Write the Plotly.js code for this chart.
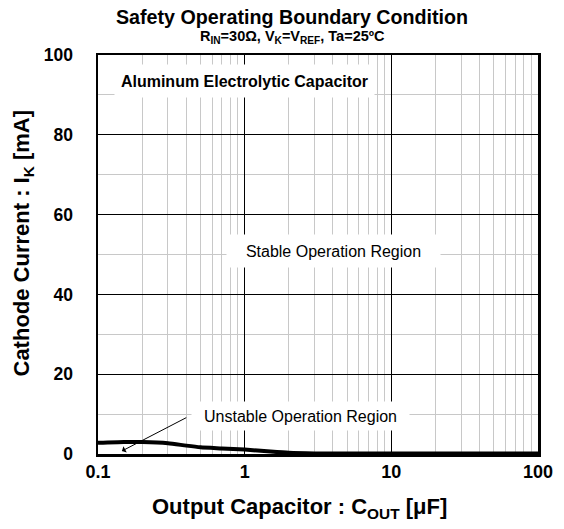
<!DOCTYPE html>
<html>
<head>
<meta charset="utf-8">
<script src="https://cdn.plot.ly/plotly-3.0.1.min.js"></script>
<style>html,body{margin:0;padding:0;background:#fff;}#chart{width:564px;height:529px;}</style>
</head>
<body>
<div id="chart"></div>
<script>
// Data
var capacitance = [0.1, 0.15, 0.2, 0.3, 0.4, 0.5, 0.7, 1, 1.5, 2, 3, 5, 10, 100]; // µF
var cathodeCurrent = [2.8, 3.0, 3.0, 2.7, 2.1, 1.7, 1.4, 1.1, 0.6, 0.3, 0.15, 0.1, 0.1, 0.1]; // mA
var xTickVals = [0.1, 1, 10, 100];
var xTickText = ['0.1', '1', '10', '100'];
var yTickVals = [0, 20, 40, 60, 80, 100];

var FONT = 'Arial, "Liberation Sans", sans-serif';

var trace = {
  x: capacitance,
  y: cathodeCurrent,
  type: 'scatter',
  mode: 'lines',
  line: {color: '#000', width: 4, shape: 'spline', smoothing: 0.6},
  hoverinfo: 'skip',
  showlegend: false
};

var layout = {
  width: 564,
  height: 529,
  margin: {l: 98, r: 26, t: 55, b: 75},
  paper_bgcolor: '#fff',
  plot_bgcolor: '#fff',
  font: {family: FONT, color: '#000'},
  title: {
    text: '<b>Safety Operating Boundary Condition</b>',
    font: {family: FONT, size: 19.7, color: '#000'},
    x: 0.441, xref: 'paper', xanchor: 'center',
    y: 0.968, yref: 'container', yanchor: 'middle'
  },
  xaxis: {
    type: 'log',
    range: [-1, 2],
    tickvals: xTickVals,
    ticktext: xTickText,
    ticks: '',
    tickfont: {family: FONT, size: 18, color: '#000', weight: 'bold'},
    showgrid: true,
    gridcolor: '#000',
    gridwidth: 1,
    minor: {dtick: 'D1', showgrid: true, gridcolor: '#c8c8c8', gridwidth: 1, ticks: ''},
    showline: true,
    linecolor: '#000',
    linewidth: 2.5,
    mirror: 'all',
    zeroline: false,
    fixedrange: true
  },
  yaxis: {
    range: [0, 100],
    tickvals: yTickVals,
    ticks: '',
    ticklabelstandoff: 19,
    tickfont: {family: FONT, size: 17.5, color: '#000', weight: 'bold'},
    showgrid: true,
    gridcolor: '#000',
    gridwidth: 1,
    minor: {dtick: 10, showgrid: true, gridcolor: '#c8c8c8', gridwidth: 1, ticks: ''},
    showline: true,
    linecolor: '#000',
    linewidth: 2.5,
    mirror: 'all',
    zeroline: false,
    fixedrange: true
  },
  annotations: [
    {
      xref: 'paper', yref: 'paper', x: 0.441, y: 1, yshift: 18,
      text: '<b>R<sub>IN</sub>=30Ω, V<sub>K</sub>=V<sub>REF</sub>, Ta=25ºC</b>',
      showarrow: false, font: {family: FONT, size: 14.5, color: '#000'},
      xanchor: 'center', yanchor: 'middle'
    },
    {
      xref: 'paper', yref: 'paper', x: 0.457, y: -0.135,
      text: '<b>Output Capacitor : C<sub>OUT</sub> [μF]</b>',
      showarrow: false, font: {family: FONT, size: 22, color: '#000'},
      xanchor: 'center', yanchor: 'middle'
    },
    {
      xref: 'paper', yref: 'paper', x: -0.1705, y: 0.53, textangle: -90,
      text: '<b>Cathode Current : I<sub>K</sub> [mA]</b>',
      showarrow: false, font: {family: FONT, size: 22, color: '#000'},
      xanchor: 'center', yanchor: 'middle'
    },
    {
      xref: 'x', yref: 'y', x: 0, y: 93.5,
      text: '<b>Aluminum Electrolytic Capacitor</b>',
      showarrow: false, font: {family: FONT, size: 16, color: '#000'},
      bgcolor: '#fff', width: 257, height: 30, xanchor: 'center', yanchor: 'middle'
    },
    {
      xref: 'x', yref: 'y', x: 0.605, y: 51,
      text: 'Stable Operation Region',
      showarrow: false, font: {family: FONT, size: 16, color: '#000'},
      bgcolor: '#fff', width: 211, height: 30, xanchor: 'center', yanchor: 'middle'
    },
    {
      xref: 'x', yref: 'y', x: 0.381, y: 9.5,
      text: 'Unstable Operation Region',
      showarrow: false, font: {family: FONT, size: 16, color: '#000'},
      bgcolor: '#fff', width: 215, height: 26, xanchor: 'center', yanchor: 'middle'
    },
    {
      xref: 'x', yref: 'y', x: -0.837, y: 0.75,
      axref: 'x', ayref: 'y', ax: -0.388, ay: 9.3,
      text: '', showarrow: true, arrowhead: 1, arrowsize: 1.2, arrowwidth: 1, arrowcolor: '#000'
    }
  ]
};

Plotly.newPlot('chart', [trace], layout, {displayModeBar: false, staticPlot: true});
</script>
</body>
</html>
